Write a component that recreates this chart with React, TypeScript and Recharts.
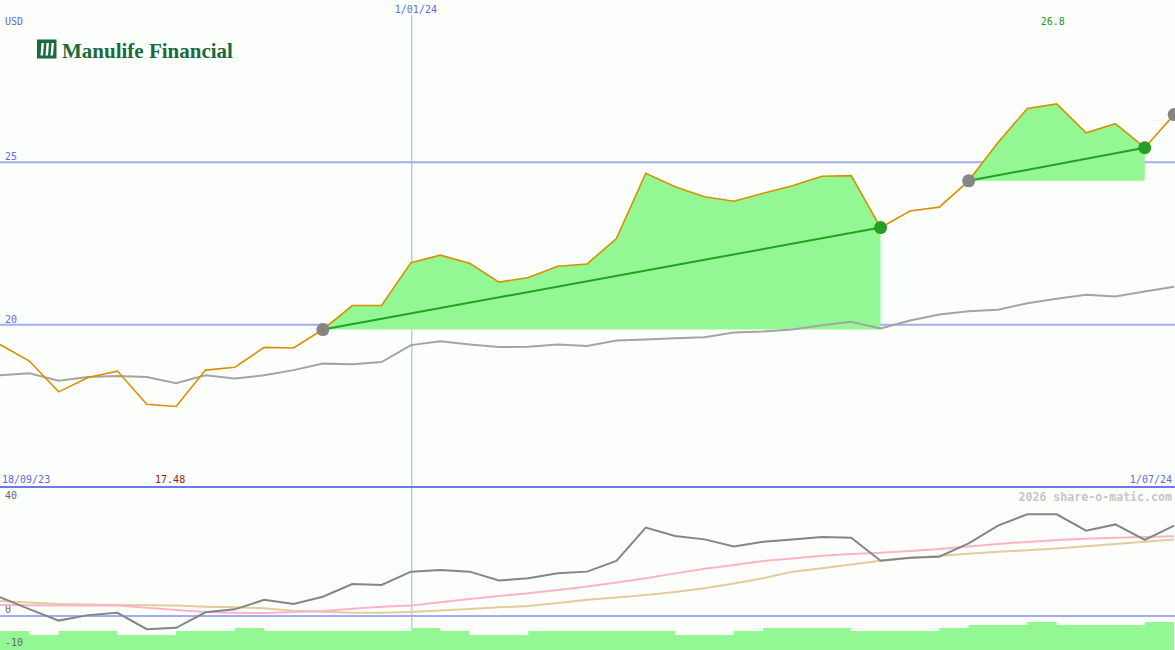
import React from 'react';
import { ComposedChart, Line, Area, XAxis, YAxis, ReferenceLine, ReferenceDot } from 'recharts';

// ---- data (weekly) ----
const price = [19.39, 18.88, 17.93, 18.37, 18.57, 17.55, 17.48, 18.6, 18.69, 19.3, 19.28, 19.85, 20.59, 20.59, 21.91, 22.14, 21.89, 21.31, 21.45, 21.8, 21.87, 22.65, 24.66, 24.25, 23.94, 23.8, 24.05, 24.28, 24.57, 24.59, 22.99, 23.5, 23.62, 24.43, 25.61, 26.66, 26.8, 25.91, 26.19, 25.45, 26.47];
const avg = [18.44, 18.5, 18.27, 18.39, 18.42, 18.39, 18.2, 18.44, 18.34, 18.44, 18.6, 18.8, 18.78, 18.85, 19.37, 19.49, 19.39, 19.31, 19.32, 19.39, 19.34, 19.51, 19.54, 19.58, 19.61, 19.76, 19.79, 19.85, 19.98, 20.09, 19.88, 20.13, 20.31, 20.41, 20.46, 20.66, 20.8, 20.92, 20.87, 21.02, 21.17];
const osc = [6.5, 2.4, -1.6, 0.3, 1.1, -4.6, -4.1, 1.3, 2.3, 5.6, 4.2, 6.7, 11.1, 10.8, 15.4, 16.0, 15.4, 12.3, 13.1, 14.8, 15.4, 19.1, 30.7, 27.8, 26.6, 24.1, 25.8, 26.6, 27.4, 27.2, 19.2, 20.2, 20.6, 25.2, 31.4, 35.3, 35.3, 29.6, 31.8, 26.4, 31.4];
const oscFast = [3.8, 3.7, 3.6, 3.6, 3.6, 2.9, 2.1, 1.4, 1.1, 1.0, 1.4, 1.7, 2.5, 3.2, 3.6, 4.8, 5.9, 6.9, 7.9, 9.0, 10.2, 11.6, 13.1, 14.8, 16.4, 17.7, 19.1, 20.0, 20.9, 21.5, 22.0, 22.6, 23.3, 24.1, 25.0, 25.7, 26.4, 26.8, 27.2, 27.4, 27.7];
const oscSlow = [5.2, 4.7, 4.2, 4.0, 3.8, 3.7, 3.6, 3.2, 3.0, 2.7, 1.8, 1.5, 1.1, 1.1, 1.4, 1.9, 2.4, 3.0, 3.5, 4.5, 5.6, 6.4, 7.3, 8.3, 9.6, 11.3, 13.1, 15.4, 16.6, 17.9, 19.2, 20.1, 20.9, 21.6, 22.3, 22.8, 23.4, 24.2, 25.0, 25.8, 26.6];
const bars = [-5.2, -6.6, -5.2, -5.2, -6.6, -6.6, -5.2, -5.2, -4.2, -5.2, -5.2, -5.2, -5.2, -5.2, -4.2, -5.2, -6.6, -6.6, -5.2, -5.2, -5.2, -5.2, -5.2, -6.6, -6.6, -5.2, -4.2, -4.2, -4.2, -5.2, -5.2, -5.2, -4.2, -3.1, -3.1, -2.1, -3.1, -3.1, -3.1, -2.1, -2.1];

// trend segments: [start week, end week]
const trendSegments = [[11, 30], [33, 39]];
const openTrendStart = 40;

// tick labels
const priceTicks = [20, 25];
const oscZero = 0;
const yearMarkWeek = 14.03;
const yearMarkLabel = '1/01/24';
const startLabel = '18/09/23';
const endLabel = '1/07/24';
const currency = 'USD';

// ---- build table ----
const W = 1175;
const H1 = 487;
const H2 = 162;
const xDomain = [0, 40.03];

const rows = price.map((p, i) => {
  const r: any = { x: i, price: p, avg: avg[i], osc: osc[i], fast: oscFast[i], slow: oscSlow[i], bar: bars[i] };
  trendSegments.forEach(([s, e], k) => {
    r['fill' + k] = i >= s && i <= e ? p : null;
    r['trend' + k] = i === s || i === e ? p : null;
  });
  r.startDot = trendSegments.some(([s]) => s === i) || i === openTrendStart ? p : null;
  r.endDot = trendSegments.some(([, e]) => e === i) ? p : null;
  return r;
});

const maxIdx = price.indexOf(Math.max(...price));
const minIdx = price.indexOf(Math.min(...price));

const MONO = '"DejaVu Sans Mono", monospace';
const BLUE = '#5a6ae6';
const GRID = '#a3aef2';
const FILL = '#93f893';
const BG = '#fcfffc';

const dotRenderer = (color: string) => (p: any) => {
  if (p.value == null || p.cy == null) return <g key={'d' + p.index} />;
  return <circle key={'d' + p.index} cx={p.cx} cy={p.cy} r={6.5} fill={color} stroke="none" />;
};

export default function App() {
  return (
    <div style={{ position: 'absolute', left: 0, top: 0, width: W, height: 650, background: BG, overflow: 'hidden' }}>
      <div style={{ position: 'absolute', left: 0, top: 0 }}>
        <ComposedChart width={W} height={H1} data={rows} margin={{ top: 0, right: 0, bottom: 0, left: 0 }}>
          <XAxis dataKey="x" type="number" domain={xDomain} hide />
          <YAxis type="number" domain={[15, 30]} hide />
          {priceTicks.map((t) => (
            <ReferenceLine key={t} y={t} stroke={GRID} strokeWidth={2} zIndex={-10}
              label={(props: any) => (
                <text x={5} y={props.viewBox.y - 2} fontFamily={MONO} fontSize={10} fill={BLUE}>{t}</text>
              )} />
          ))}
          <ReferenceLine x={yearMarkWeek} stroke={GRID} strokeWidth={1} zIndex={-10}
            label={(props: any) => (
              <g>
                <rect x={props.viewBox.x - 18} y={0} width={44} height={15} fill={BG} />
                <text x={props.viewBox.x - 17} y={13} fontFamily={MONO} fontSize={10} fill={BLUE}>{yearMarkLabel}</text>
              </g>
            )} />
          {trendSegments.map(([s], k) => (
            <Area key={'f' + k} dataKey={'fill' + k} type="linear" baseValue={price[s]} stroke="none" fill={FILL} fillOpacity={1} isAnimationActive={false} dot={false} activeDot={false} />
          ))}
          <Line dataKey="avg" type="linear" stroke="#a4a4a4" strokeWidth={2} dot={false} activeDot={false} isAnimationActive={false} />
          <Line dataKey="startDot" stroke="none" dot={dotRenderer('#858585')} activeDot={false} isAnimationActive={false} />
          <Line dataKey="endDot" stroke="none" dot={dotRenderer('#25a025')} activeDot={false} isAnimationActive={false} />
          {trendSegments.map((_, k) => (
            <Line key={'t' + k} dataKey={'trend' + k} type="linear" connectNulls stroke="#22a022" strokeWidth={2} dot={false} activeDot={false} isAnimationActive={false} />
          ))}
          <Line dataKey="price" type="linear" stroke="#d99000" strokeWidth={1.6} dot={false} activeDot={false} isAnimationActive={false} />
          <ReferenceDot x={maxIdx} y={price[maxIdx]} r={1} fill="none" stroke="none"
            label={(props: any) => (
              <text x={props.viewBox.x + props.viewBox.width / 2 - 4} y={25} textAnchor="middle" fontFamily={MONO} fontSize={10} fill="#229922">{String(price[maxIdx])}</text>
            )} />
          <ReferenceDot x={minIdx} y={price[minIdx]} r={1} fill="none" stroke="none"
            label={(props: any) => (
              <text x={props.viewBox.x + props.viewBox.width / 2 - 6} y={483} textAnchor="middle" fontFamily={MONO} fontSize={10} fill="#a01818">{String(price[minIdx])}</text>
            )} />
        </ComposedChart>
      </div>
      <div style={{ position: 'absolute', left: 0, top: 486, width: W, height: 2, background: '#6a7ae8' }} />
      <div style={{ position: 'absolute', left: 0, top: 488 }}>
        <ComposedChart width={W} height={H2} data={rows} margin={{ top: 0, right: 0, bottom: 0, left: 0 }}>
          <XAxis dataKey="x" type="number" domain={xDomain} hide />
          <YAxis type="number" domain={[-11.81, 44.44]} hide />
          <ReferenceLine x={yearMarkWeek} stroke={GRID} strokeWidth={1} zIndex={-10} />
          <ReferenceLine y={oscZero} stroke={GRID} strokeWidth={2} zIndex={-10}
            label={(props: any) => (
              <text x={5} y={props.viewBox.y - 3} fontFamily={MONO} fontSize={10} fill="#666">{oscZero}</text>
            )} />
          <Area dataKey="bar" type="stepAfter" baseValue={-11.81} stroke="none" fill={FILL} fillOpacity={1} dot={false} activeDot={false} isAnimationActive={false} />
          <Line dataKey="slow" type="linear" stroke="#e3cb9c" strokeWidth={2} dot={false} activeDot={false} isAnimationActive={false} />
          <Line dataKey="fast" type="linear" stroke="#ffb3c8" strokeWidth={2} dot={false} activeDot={false} isAnimationActive={false} />
          <Line dataKey="osc" type="linear" stroke="#858585" strokeWidth={2} dot={false} activeDot={false} isAnimationActive={false} />
        </ComposedChart>
      </div>
      <svg width={W} height={650} style={{ position: 'absolute', left: 0, top: 0, pointerEvents: 'none' }}>
        <text x={5} y={25} fontFamily={MONO} fontSize={10} fill={BLUE}>{currency}</text>
        <text x={2} y={483} fontFamily={MONO} fontSize={10} fill={BLUE}>{startLabel}</text>
        <text x={1172} y={483} textAnchor="end" fontFamily={MONO} fontSize={10} fill={BLUE}>{endLabel}</text>
        <text x={1172} y={500.5} textAnchor="end" fontFamily={MONO} fontSize={11.6} fontWeight="bold" fill="#c6c6c6">2026 share-o-matic.com</text>
        <text x={5} y={499} fontFamily={MONO} fontSize={10} fill="#666">40</text>
        <text x={5} y={645.5} fontFamily={MONO} fontSize={10} fill="#666">-10</text>
        <g>
          <rect x={37} y={39.5} width={19.5} height={19} fill="#1a6a3c" />
          <path d="M41.5 43 L44 43 L43 55.5 L40.5 55.5 Z M46.5 43 L49 43 L48 55.5 L45.5 55.5 Z M51.5 43 L54 43 L53 55.5 L50.5 55.5 Z" fill="#fff" />
          <text x={62} y={58} fontFamily='"Liberation Serif", "Times New Roman", serif' fontWeight="bold" fontSize={21} fill="#1a6a3c">Manulife Financial</text>
        </g>
      </svg>
    </div>
  );
}
